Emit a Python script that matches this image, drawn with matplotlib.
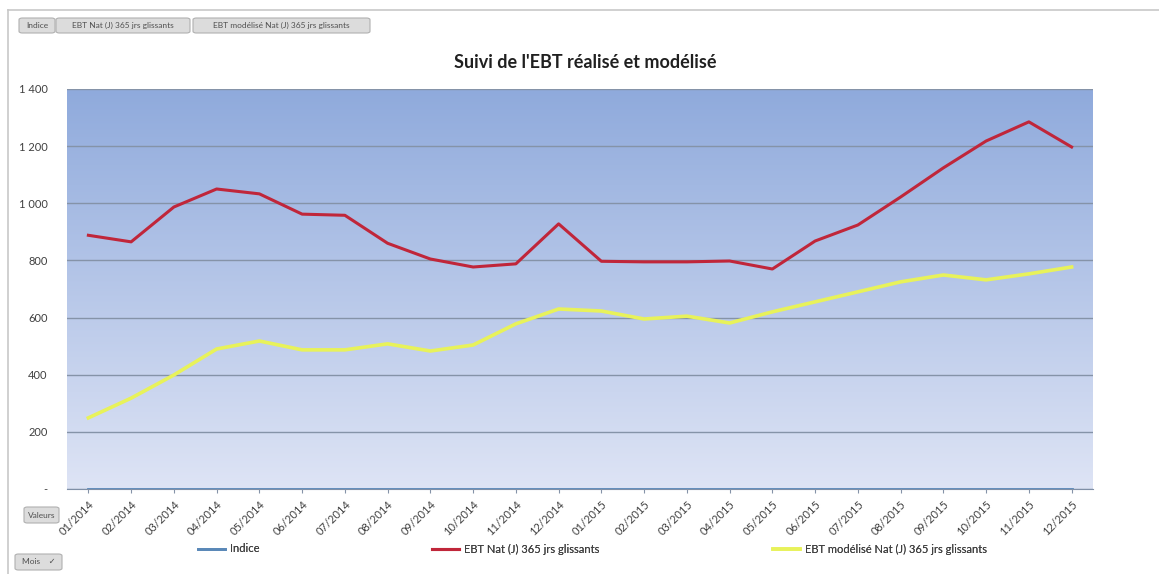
import matplotlib
matplotlib.use("Agg")
import matplotlib.pyplot as plt
import numpy as np
from matplotlib.patches import FancyBboxPatch
from matplotlib.ticker import FuncFormatter

plt.rcParams['font.family'] = ['Lato', 'DejaVu Sans']

months = ["01/2014", "02/2014", "03/2014", "04/2014", "05/2014", "06/2014",
          "07/2014", "08/2014", "09/2014", "10/2014", "11/2014", "12/2014",
          "01/2015", "02/2015", "03/2015", "04/2015", "05/2015", "06/2015",
          "07/2015", "08/2015", "09/2015", "10/2015", "11/2015", "12/2015"]
indice = [0, 0, 0, 0, 0, 0, 0, 0, 0, 0, 0, 0,
          0, 0, 0, 0, 0, 0, 0, 0, 0, 0, 0, 0]
ebt_nat = [888, 865, 987, 1050, 1033, 962, 958, 860, 805, 777, 788, 928,
           797, 795, 795, 798, 770, 868, 924, 1022, 1124, 1218, 1285, 1197]
ebt_mod = [249, 318, 399, 490, 518, 487, 487, 508, 483, 504, 578, 630,
           623, 595, 605, 581, 620, 655, 690, 725, 749, 732, 753, 777]
yticks = [0, 200, 400, 600, 800, 1000, 1200, 1400]

fig = plt.figure(figsize=(11.59, 5.74), dpi=100)
fig.patch.set_facecolor('white')

ax = fig.add_axes([67/1159, (574-489)/574, (1093-67)/1159, (489-89)/574])
x = np.arange(len(months))
ax.set_xlim(-0.5, len(months) - 0.5)
ax.set_ylim(0, 1400)

# gradient background
top = np.array([143, 170, 220]) / 255
bot = np.array([222, 228, 245]) / 255
grad = np.linspace(0, 1, 256)[:, None]
img = bot[None, None, :] * (1 - grad[..., None]) + top[None, None, :] * grad[..., None]
img = np.repeat(img, 2, axis=1)
ax.imshow(img, aspect='auto', origin='lower', extent=[-0.5, len(months) - 0.5, 0, 1400], zorder=0)

ax.set_yticks(yticks)
ax.yaxis.grid(True, color='#8593a8', linewidth=1.0, zorder=1)
ax.set_axisbelow(False)
ax.yaxis.set_major_formatter(FuncFormatter(lambda v, p: '-' if v == 0 else f"{int(v):,}".replace(',', ' ')))
ax.tick_params(axis='y', length=0, labelsize=8, labelcolor='#404040', pad=14)
ax.set_xticks(x)
ax.set_xticklabels(months, rotation=45, ha='right', rotation_mode='anchor', fontsize=8, color='#404040')
ax.tick_params(axis='x', length=3, color='#8593a8', pad=4)
for s in ['top', 'right', 'left']:
    ax.spines[s].set_visible(False)
ax.spines['bottom'].set_color('#7f8fa6')

l1, = ax.plot(x, indice, color='#5a88b8', linewidth=2, zorder=3, label='Indice')
l2, = ax.plot(x, ebt_nat, color='#c0263a', linewidth=2.2, zorder=4, label='EBT Nat (J) 365 jrs glissants')
l3, = ax.plot(x, ebt_mod, color='#e8f25a', linewidth=2.6, zorder=4, label='EBT modélisé Nat (J) 365 jrs glissants')

fig.text(585/1159, 1 - 62/574, "Suivi de l'EBT réalisé et modélisé", ha='center', va='center',
         fontsize=13, fontweight='bold', color='#202020')

for h, xpos in [(l1, 198), (l2, 432), (l3, 773)]:
    lg = fig.legend(handles=[h], loc='center left', bbox_to_anchor=(xpos/1159, 1 - 549/574),
                    frameon=False, fontsize=8, handlelength=2.4, handletextpad=0.5,
                    borderpad=0, borderaxespad=0, labelcolor='#404040')
    fig.add_artist(lg)

# frame border lines
fig.add_artist(plt.Line2D([8/1159, 8/1159], [0, 1 - 10/574], color='#c8c8c8', lw=1.2, transform=fig.transFigure))
fig.add_artist(plt.Line2D([8/1159, 1], [1 - 10/574, 1 - 10/574], color='#c8c8c8', lw=1.2, transform=fig.transFigure))

def button(x0, y0, w, h, text, fs=6):
    p = FancyBboxPatch((x0/1159, 1 - (y0 + h)/574), w/1159, h/574,
                       boxstyle='round,pad=0,rounding_size=0.003', transform=fig.transFigure,
                       facecolor='#dcdcdc', edgecolor='#b0b0b0', lw=0.8)
    fig.add_artist(p)
    fig.text((x0 + w/2)/1159, 1 - (y0 + h/2)/574, text, ha='center', va='center',
             fontsize=fs, color='#505050')

button(19, 18, 36, 15, "Indice")
button(56, 18, 134, 15, "EBT Nat (J) 365 jrs glissants")
button(193, 18, 177, 15, "EBT modélisé Nat (J) 365 jrs glissants")
button(24, 507, 35, 16, "Valeurs")
button(15, 554, 47, 16, "Mois    \u2713")

fig.savefig("out.png", dpi=100)
